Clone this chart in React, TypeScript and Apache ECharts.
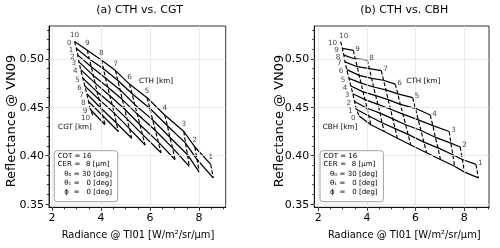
import { useEffect, useRef } from "react";
import * as echarts from "echarts";

// CTH levels (km) and layer levels (CGT in panel a, CBH in panel b)
const cthLevels = [10, 9, 8, 7, 6, 5, 4, 3, 2, 1];
const layerLevels = [0, 1, 2, 3, 4, 5, 6, 7, 8, 9, 10];

// Radiance @ TI01 and Reflectance @ VN09 along each constant-CTH line, index = CGT (km), 0..CTH
const radCTH10 = [2.92, 2.99, 3.05, 3.1, 3.17, 3.26, 3.34, 3.42, 3.49, 3.56, 3.68];
const refCTH10 = [0.518, 0.511, 0.504, 0.497, 0.489, 0.48, 0.472, 0.464, 0.456, 0.448, 0.441];
const radCTH9 = [3.44, 3.52, 3.6, 3.68, 3.76, 3.84, 3.92, 4.0, 4.08, 4.16];
const refCTH9 = [0.509, 0.5, 0.492, 0.483, 0.475, 0.466, 0.458, 0.449, 0.441, 0.432];
const radCTH8 = [4.01, 4.1, 4.19, 4.27, 4.36, 4.45, 4.54, 4.62, 4.71];
const refCTH8 = [0.499, 0.49, 0.48, 0.471, 0.462, 0.453, 0.444, 0.434, 0.425];
const radCTH7 = [4.59, 4.68, 4.78, 4.87, 4.97, 5.06, 5.16, 5.25];
const refCTH7 = [0.488, 0.478, 0.468, 0.458, 0.448, 0.438, 0.428, 0.418];
const radCTH6 = [5.16, 5.27, 5.37, 5.48, 5.59, 5.69, 5.8];
const refCTH6 = [0.474, 0.464, 0.453, 0.443, 0.432, 0.422, 0.411];
const radCTH5 = [5.88, 5.99, 6.11, 6.22, 6.34, 6.45];
const refCTH5 = [0.46, 0.449, 0.437, 0.426, 0.414, 0.403];
const radCTH4 = [6.6, 6.71, 6.81, 6.92, 7.02];
const refCTH4 = [0.442, 0.431, 0.419, 0.408, 0.396];
const radCTH3 = [7.38, 7.45, 7.53, 7.6];
const refCTH3 = [0.425, 0.413, 0.401, 0.389];
const radCTH2 = [7.83, 7.92, 8.01];
const refCTH2 = [0.409, 0.396, 0.383];
const radCTH1 = [8.48, 8.58];
const refCTH1 = [0.391, 0.377];

const xMajor = [2, 4, 6, 8];
const xMinor = [2.5, 3, 3.5, 4.5, 5, 5.5, 6.5, 7, 7.5, 8.5, 9];
const yMajor = [0.35, 0.4, 0.45, 0.5];
const yMinor = [0.36, 0.37, 0.38, 0.39, 0.41, 0.42, 0.43, 0.44, 0.46, 0.47, 0.48, 0.49, 0.51, 0.52, 0.53];

const infoNames = ["COT", "CER", "θ₀", "θ₁", "ϕ"];
const infoValues = ["16", "8 [µm]", "30 [deg]", "0 [deg]", "0 [deg]"];

const radiance: Record<number, number[]> = {
  10: radCTH10, 9: radCTH9, 8: radCTH8, 7: radCTH7, 6: radCTH6,
  5: radCTH5, 4: radCTH4, 3: radCTH3, 2: radCTH2, 1: radCTH1,
};
const reflectance: Record<number, number[]> = {
  10: refCTH10, 9: refCTH9, 8: refCTH8, 7: refCTH7, 6: refCTH6,
  5: refCTH5, 4: refCTH4, 3: refCTH3, 2: refCTH2, 1: refCTH1,
};
const pt = (c: number, g: number) => [radiance[c][g], reflectance[c][g]];

const FONT = "DejaVu Sans";
const INK = "#000";

function axesFor(gi: number, xmin: number, xmax: number) {
  const tickStyle = { color: INK, width: 0.8 };
  const xAxes = [
    {
      gridIndex: gi, type: "value", min: xmin, max: xmax, position: "bottom",
      axisLine: { show: true, onZero: false, lineStyle: tickStyle },
      axisTick: { show: true, length: 3.5, customValues: xMajor, lineStyle: tickStyle },
      axisLabel: { show: true, customValues: xMajor, fontSize: 11, color: INK, fontFamily: FONT, margin: 5 },
      splitLine: { show: false },
    },
    {
      gridIndex: gi, type: "value", min: xmin, max: xmax, position: "bottom",
      axisLine: { show: false, onZero: false },
      axisTick: { show: true, length: 2, customValues: xMinor, lineStyle: tickStyle },
      axisLabel: { show: false },
      splitLine: { show: false },
    },
  ];
  const yAxes = [
    {
      gridIndex: gi, type: "value", min: 0.3466, max: 0.5341, position: "left",
      axisLine: { show: true, onZero: false, lineStyle: tickStyle },
      axisTick: { show: true, length: 3.5, customValues: yMajor, lineStyle: tickStyle },
      axisLabel: {
        show: true, customValues: yMajor, fontSize: 11, color: INK, fontFamily: FONT, margin: 5,
        formatter: (v: number) => v.toFixed(2),
      },
      splitLine: { show: false },
    },
    {
      gridIndex: gi, type: "value", min: 0.3466, max: 0.5341, position: "left",
      axisLine: { show: false, onZero: false },
      axisTick: { show: true, length: 2, customValues: yMinor, lineStyle: tickStyle },
      axisLabel: { show: false },
      splitLine: { show: false },
    },
  ];
  return { xAxes, yAxes };
}

function panelSeries(gi: number, mode: "cgt" | "cbh") {
  const ax = { xAxisIndex: gi * 2, yAxisIndex: gi * 2 };
  const out: any[] = [];
  out.push({
    type: "line", ...ax, data: [pt(10, 0)], showSymbol: false, silent: true, z: 1,
    lineStyle: { opacity: 0 },
    markLine: {
      silent: true, symbol: ["none", "none"], label: { show: false },
      lineStyle: { color: "#e4e4e4", width: 0.8, type: "solid" },
      data: [...xMajor.map((v) => ({ xAxis: v })), ...yMajor.map((v) => ({ yAxis: v }))],
    },
  });
  for (const c of cthLevels) {
    out.push({
      type: "line", ...ax, silent: true, z: 3, showSymbol: false,
      data: radiance[c].map((x, g) => [x, reflectance[c][g]]),
      lineStyle: { color: INK, width: 1.15, type: [4, 2] },
    });
  }
  for (const k of layerLevels) {
    const cs = cthLevels.filter((c) => c >= Math.max(k, 1));
    const data = mode === "cgt" ? cs.map((c) => pt(c, k)) : cs.map((c) => pt(c, c - k));
    out.push({
      type: "line", ...ax, silent: true, z: 4, showSymbol: false, data,
      lineStyle: { color: INK, width: 1.25, type: "solid" },
    });
  }
  const labels: any[] = [];
  for (const c of cthLevels) {
    if (mode === "cgt") {
      labels.push({ value: pt(c, 0), label: { formatter: String(c), position: "top", distance: 3.5 } });
    } else if (c === 10) {
      labels.push({ value: pt(c, 0), label: { formatter: String(c), position: "top", distance: 2, offset: [3, 0] } });
    } else {
      labels.push({ value: pt(c, 0), label: { formatter: String(c), position: "right", distance: 1.5, offset: [0, -2] } });
    }
  }
  for (const k of layerLevels) {
    const p = mode === "cgt" ? pt(10, k) : pt(10, 10 - k);
    labels.push({ value: p, label: { formatter: String(k), position: "left", distance: mode === "cgt" ? 2.5 : 3, offset: [0, 1] } });
  }
  out.push({
    type: "scatter", ...ax, silent: true, z: 5, symbolSize: 1,
    itemStyle: { color: "rgba(0,0,0,0)" },
    label: { show: true, fontSize: 7.2, color: "#111", fontFamily: FONT, textBorderWidth: 0 },
    data: labels,
  });
  return out;
}

function text(x: number, y: number, t: string, size: number, align = "left", extra: any = {}) {
  return {
    type: "text", x, y, silent: true, ...extra,
    style: { text: t, fontSize: size, fontFamily: FONT, fill: INK, align, verticalAlign: "middle" },
  };
}

function infoBox(dx: number) {
  const els: any[] = [
    {
      type: "rect", silent: true,
      shape: { x: 54.3 + dx, y: 150.7, width: 63.4, height: 51, r: 3 },
      style: { fill: "#fff", stroke: "#8a8a8a", lineWidth: 0.8 },
      z: 10,
    },
  ];
  const ys = [155.7, 164.3, 174, 183.3, 192.3];
  infoNames.forEach((n, i) => {
    const first = i < 2;
    els.push({ ...text((first ? 57.7 : 64.3) + dx, ys[i], n, 7, "left"), z: 11 });
    els.push({ ...text((first ? 77.5 : 76.8) + dx, ys[i], "=", 7, "center"), z: 11 });
    const right = i === 0 ? 91.5 : i === 1 ? 109.5 : 111.9;
    els.push({ ...text(right + dx, ys[i], infoValues[i], 7, "right"), z: 11 });
  });
  return els;
}

export default function App() {
  const ref = useRef<HTMLDivElement>(null);
  useEffect(() => {
    if (!ref.current) return;
    const chart = echarts.init(ref.current, undefined, { renderer: "svg" });
    const a = axesFor(0, 1.876, 9.09);
    const b = axesFor(1, 1.836, 9.016);
    const option: any = {
      animation: false,
      backgroundColor: "#fff",
      grid: [
        { left: 49, top: 26, width: 176.7, height: 181.3, show: true, borderColor: INK, borderWidth: 0.8, backgroundColor: "transparent" },
        { left: 314.3, top: 26, width: 174.7, height: 181.3, show: true, borderColor: INK, borderWidth: 0.8, backgroundColor: "transparent" },
      ],
      xAxis: [...a.xAxes, ...b.xAxes],
      yAxis: [...a.yAxes, ...b.yAxes],
      series: [...panelSeries(0, "cgt"), ...panelSeries(1, "cbh")],
      graphic: [
        text(139.5, 9, "(a) CTH vs. CGT", 11, "center"),
        text(404.2, 9, "(b) CTH vs. CBH", 11, "center"),
        text(138, 233.3, "Radiance @ TI01 [W/m²/sr/µm]", 11, "center", { scaleX: 0.9 }),
        text(404.3, 233.3, "Radiance @ TI01 [W/m²/sr/µm]", 11, "center", { scaleX: 0.9 }),
        text(10, 121, "Reflectance @ VN09", 13, "center", { rotation: Math.PI / 2 }),
        text(278.3, 121, "Reflectance @ VN09", 13, "center", { rotation: Math.PI / 2 }),
        { ...text(156, 80, "CTH [km]", 7.2, "center"), z: 12 },
        { ...text(75, 126.7, "CGT [km]", 7.2, "center"), z: 12 },
        { ...text(423.3, 80, "CTH [km]", 7.2, "center"), z: 12 },
        { ...text(340, 126.7, "CBH [km]", 7.2, "center"), z: 12 },
        ...infoBox(0),
        ...infoBox(265.7),
      ],
    };
    chart.setOption(option);
    return () => chart.dispose();
  }, []);
  return (
    <div
      ref={ref}
      style={{ position: "fixed", left: 0, top: 0, width: 500, height: 248, background: "#fff", filter: "grayscale(1)" }}
    />
  );
}
